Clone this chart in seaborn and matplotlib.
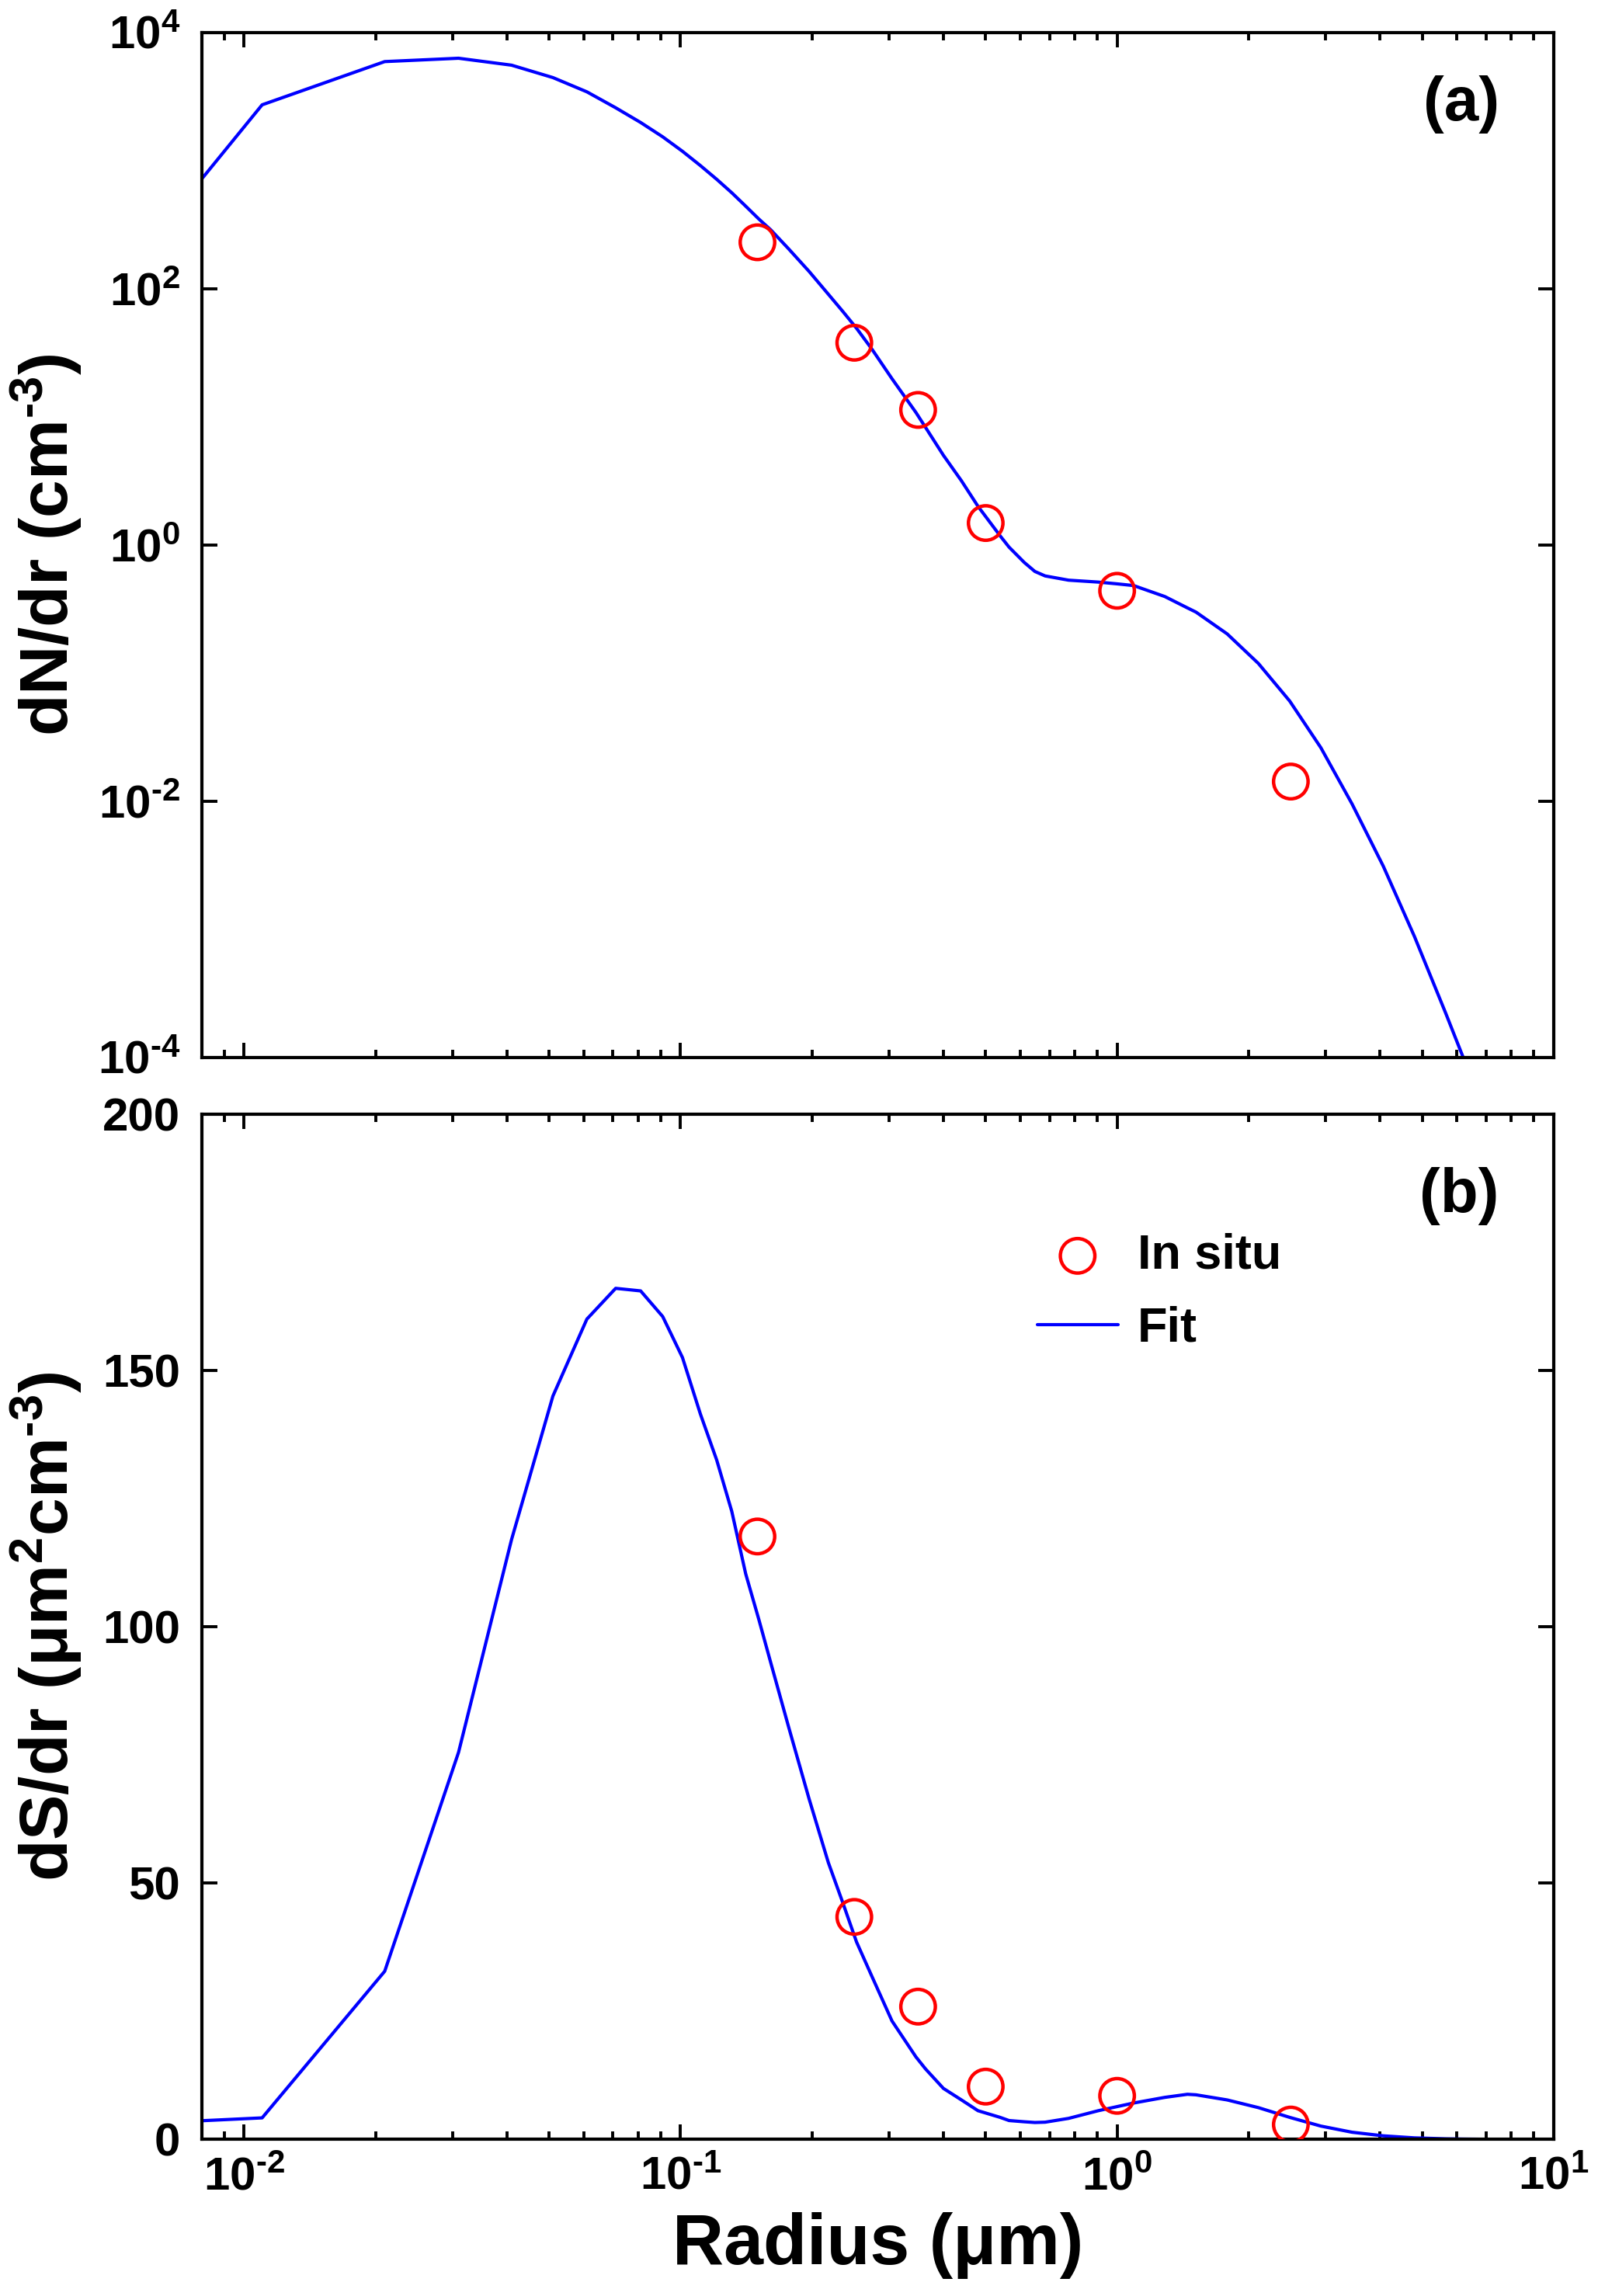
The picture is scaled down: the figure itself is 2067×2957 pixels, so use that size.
import numpy as np
import pandas as pd
import matplotlib
matplotlib.use("Agg")
import matplotlib.pyplot as plt
import matplotlib.ticker as mticker
import seaborn as sns

# ------------------------------------------------------------------
# Values
# ------------------------------------------------------------------
fit_radius = [0.001, 0.011, 0.021, 0.031, 0.041, 0.051, 0.061, 0.071, 0.081, 0.091,
              0.101, 0.111, 0.121, 0.131, 0.141, 0.151, 0.161, 0.177, 0.197, 0.218,
              0.235, 0.253, 0.275, 0.305, 0.346, 0.364, 0.400, 0.440, 0.480, 0.5395,
              0.5655, 0.613, 0.648, 0.684, 0.774, 0.9055, 1.0, 1.091, 1.286, 1.449,
              1.516, 1.787, 2.107, 2.485, 2.929, 3.453, 4.072, 4.799, 5.656, 6.19,
              7.0, 8.0, 10.0]
fit_dn = [0.12, 2720, 5915, 6282, 5546, 4437, 3435, 2580, 1980, 1530,
          1180, 913, 713, 560, 440, 350, 287, 203.5, 136.1, 90.4,
          66.7, 49.0, 33.3, 19.8, 10.8, 8.26, 5.0, 3.16, 2.0, 1.176,
          0.96, 0.728, 0.62, 0.572, 0.53, 0.512, 0.496, 0.481, 0.395, 0.322,
          0.2985, 0.2018, 0.1186, 0.0604, 0.0261, 0.0095, 0.0031, 8.77e-4, 2.22e-4, 1.02e-4,
          2.5e-5, 4e-6, 1e-7]
fit_ds = [0.0, 4.2, 32.8, 75.5, 117.0, 145.0, 160.0, 166.0, 165.5, 160.5,
          152.5, 141.5, 132.5, 122.5, 110.3, 101.5, 92.9, 80.3, 66.4, 54.0,
          46.3, 38.5, 31.6, 23.1, 16.1, 13.75, 9.95, 7.7, 5.6, 4.3,
          3.68, 3.44, 3.3, 3.36, 4.1, 5.6, 6.4, 7.1, 8.2, 8.8,
          8.7, 7.7, 6.2, 4.3, 2.6, 1.4, 0.7, 0.3, 0.12, 0.07,
          0.03, 0.01, 0.0]

insitu_radius = [0.15, 0.25, 0.35, 0.5, 1.0, 2.5]
insitu_dn = [230, 37.8, 11.3, 1.48, 0.438, 0.0142]
insitu_ds = [117.6, 43.4, 25.9, 10.3, 8.5, 2.9]

fit = pd.DataFrame({"r": fit_radius, "dN": fit_dn, "dS": fit_ds})
insitu = pd.DataFrame({"r": insitu_radius, "dN": insitu_dn, "dS": insitu_ds})

# ------------------------------------------------------------------
# Style
# ------------------------------------------------------------------
sns.set_theme(style="ticks")
plt.rcParams["font.family"] = ["Liberation Sans", "DejaVu Sans"]
plt.rcParams["font.weight"] = "bold"
plt.rcParams["mathtext.fontset"] = "custom"
plt.rcParams["mathtext.bf"] = "Liberation Sans:bold"
plt.rcParams["mathtext.rm"] = "Liberation Sans:bold"
plt.rcParams["mathtext.default"] = "bf"
plt.rcParams["axes.linewidth"] = 1.5
for key in ("text.color", "axes.labelcolor", "axes.edgecolor", "xtick.color", "ytick.color"):
    plt.rcParams[key] = "black"

TICK_FS = 21.6
LABEL_FS = 31.5
LEG_FS = 22.7
PANEL_FS = 28.8


def pow10_label(v, _pos):
    exp = int(round(np.log10(v)))
    return "$10^{%s}$" % str(exp).replace("-", r"\text{-}")


fig = plt.figure(figsize=(10.335, 14.785), dpi=200)
ax_top = fig.add_axes([0.1257, 0.5395, 0.8423, 0.4464])
ax_bot = fig.add_axes([0.1257, 0.0682, 0.8423, 0.4466])

for ax, col in ((ax_top, "dN"), (ax_bot, "dS")):
    sns.lineplot(data=fit, x="r", y=col, ax=ax, color="blue", linewidth=1.5,
                 estimator=None, sort=False, label="Fit")
    sns.scatterplot(data=insitu, x="r", y=col, ax=ax, marker="o", s=256,
                    facecolor="none", edgecolor="red", linewidth=1.6,
                    label="In situ", zorder=3)
    ax.set_xscale("log")
    ax.set_xlim(0.008, 10)
    ax.xaxis.set_major_locator(mticker.LogLocator(base=10, numticks=10))
    ax.xaxis.set_minor_locator(mticker.LogLocator(base=10, subs=np.arange(2, 10), numticks=20))
    ax.xaxis.set_minor_formatter(mticker.NullFormatter())
    ax.xaxis.set_major_formatter(mticker.FuncFormatter(pow10_label))
    ax.tick_params(axis="both", which="both", direction="in", top=True, right=True,
                   width=1.4, labelsize=TICK_FS)
    ax.tick_params(axis="x", which="major", length=6.8, pad=8)
    ax.tick_params(axis="x", which="minor", length=3.6)
    ax.tick_params(axis="y", which="major", length=7.2, pad=10)
    ax.tick_params(axis="y", which="minor", length=0)
    ax.set_xlabel("")

# top panel: number size distribution
ax_top.set_yscale("log")
ax_top.set_ylim(1e-4, 1e4)
ax_top.yaxis.set_major_locator(mticker.FixedLocator([1e-4, 1e-2, 1e0, 1e2, 1e4]))
ax_top.yaxis.set_minor_locator(mticker.NullLocator())
ax_top.yaxis.set_major_formatter(mticker.FuncFormatter(pow10_label))
ax_top.xaxis.set_major_formatter(mticker.NullFormatter())
ax_top.set_ylabel(r"dN/dr (cm$^{\text{-}3}$)", fontsize=LABEL_FS, fontweight="bold")
ax_top.yaxis.set_label_coords(-0.087, 0.5)
ax_top.get_legend().remove()
ax_top.text(0.9316, 0.930, "(a)", transform=ax_top.transAxes, ha="center", va="center",
            fontsize=PANEL_FS, fontweight="bold")

# bottom panel: surface size distribution
ax_bot.set_ylim(0, 200)
ax_bot.set_yticks([0, 50, 100, 150, 200])
ax_bot.set_ylabel(r"dS/dr (μm$^{2}$cm$^{\text{-}3}$)", fontsize=LABEL_FS, fontweight="bold")
ax_bot.yaxis.set_label_coords(-0.087, 0.5)
ax_bot.set_xlabel("Radius (μm)", fontsize=LABEL_FS + 1.5, fontweight="bold", labelpad=6)
ax_bot.text(0.930, 0.920, "(b)", transform=ax_bot.transAxes, ha="center", va="center",
            fontsize=PANEL_FS, fontweight="bold")

handles, labels = ax_bot.get_legend_handles_labels()
order = [labels.index("In situ"), labels.index("Fit")]
ax_bot.legend([handles[i] for i in order], [labels[i] for i in order],
              loc="upper left", bbox_to_anchor=(0.618, 0.884), frameon=False,
              borderpad=0, borderaxespad=0, handlelength=1.65, handletextpad=0.4,
              labelspacing=0.55, fontsize=LEG_FS)

for ax in (ax_top, ax_bot):
    for lbl in ax.get_xticklabels() + ax.get_yticklabels():
        lbl.set_fontweight("bold")

fig.savefig("out.png", dpi=200)
